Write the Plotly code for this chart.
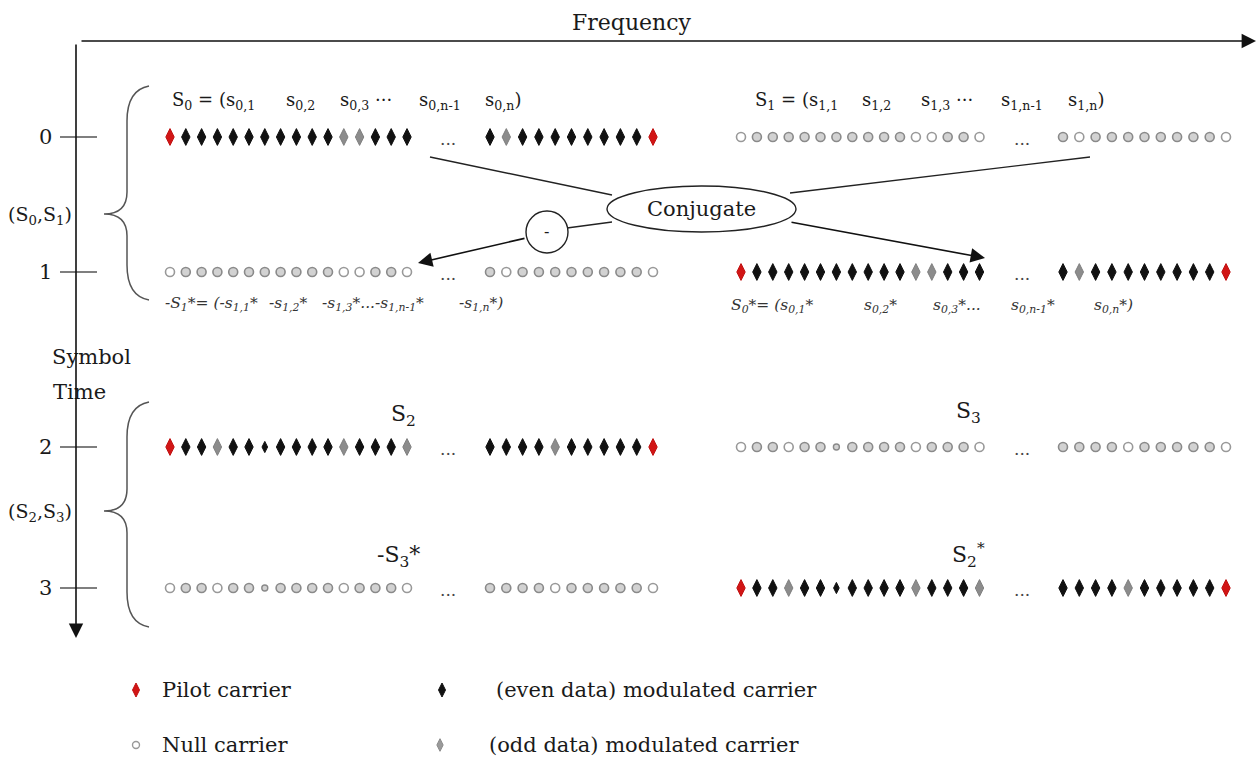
import plotly.graph_objects as go

# ---------------- data ----------------
# carrier codes: P pilot, E even data, e small even data, O odd data,
# N null (light), M null (grey ring), m small null ring
time_labels = ["0", "1", "2", "3"]
pair_labels = ["(S<sub>0</sub>,S<sub>1</sub>)", "(S<sub>2</sub>,S<sub>3</sub>)"]

s0_head = "PEEEEEEEEEEOOEEE"
s0_tail = "EOEEEEEEEEP"
s1_head = "NMMMMMMMMMMNNMMN"
s1_tail = "MNMMMMMMMMN"
s2_head = "PEEOEEeEEEEOEEEO"
s2_tail = "EEEEOEEEEEP"
s3_head = "NMMNMMmMMMMNMMMN"
s3_tail = "MMMMNMMMMMN"

# rows: (left head, left tail, right head, right tail)
rows = [
    (s0_head, s0_tail, s1_head, s1_tail),
    (s1_head, s1_tail, s0_head, s0_tail),
    (s2_head, s2_tail, s3_head, s3_tail),
    (s3_head, s3_tail, s2_head, s2_tail),
]

legend_codes = ["P", "E", "N", "O"]
legend_texts = ["Pilot carrier", "(even data) modulated carrier",
                "Null carrier", "(odd data) modulated carrier"]

# ---------------- layout constants ----------------
row_y = [137, 272, 447, 588]
group_x = [170, 490, 741, 1063]
group_step = [15.8, 16.3, 15.9, 16.3]
dots_x = [448, 1022]
SERIF = "DejaVu Serif"
INK = "#1a1a1a"

styles = {
    "P": dict(symbol="diamond-tall", size=12, color="#d21515", line=dict(color="#c01010", width=1)),
    "E": dict(symbol="diamond-tall", size=12, color="#111111", line=dict(color="#111111", width=1)),
    "e": dict(symbol="diamond-tall", size=8, color="#111111", line=dict(color="#111111", width=1)),
    "O": dict(symbol="diamond-tall", size=12, color="#8c8c8c", line=dict(color="#808080", width=1)),
    "N": dict(symbol="circle", size=9, color="#ffffff", line=dict(color="#999999", width=1.6)),
    "M": dict(symbol="circle", size=9, color="#d2d2d2", line=dict(color="#8a8a8a", width=1.6)),
    "m": dict(symbol="circle", size=6, color="#d2d2d2", line=dict(color="#8a8a8a", width=1.4)),
}
legend_styles = {
    "P": dict(symbol="diamond-tall", size=10, color="#d21515", line=dict(color="#c01010", width=1)),
    "E": dict(symbol="diamond-tall", size=10, color="#111111", line=dict(color="#111111", width=1)),
    "N": dict(symbol="circle", size=7, color="#ffffff", line=dict(color="#999999", width=1.4)),
    "O": dict(symbol="diamond-tall", size=9, color="#9a9a9a", line=dict(color="#8a8a8a", width=1)),
}

pts = {k: ([], []) for k in styles}
for r, (lh, lt, rh, rt) in enumerate(rows):
    for gx, gs, seq in zip(group_x, group_step, (lh, lt, rh, rt)):
        for i, c in enumerate(seq):
            pts[c][0].append(gx + i * gs)
            pts[c][1].append(row_y[r])

fig = go.Figure()
for k, (xs, ys) in pts.items():
    if xs:
        fig.add_trace(go.Scatter(x=xs, y=ys, mode="markers", marker=styles[k],
                                 hoverinfo="skip", showlegend=False))

# legend markers
leg_pos = [(136, 690), (442, 690), (136, 745), (440, 745)]
text_pos = [(160, 690), (494, 690), (160, 745), (487, 745)]
for code, (lx, ly) in zip(legend_codes, leg_pos):
    fig.add_trace(go.Scatter(x=[lx], y=[ly], mode="markers", marker=legend_styles[code],
                             hoverinfo="skip", showlegend=False))

ann = []
def txt(x, y, s, size=19, xanchor="center", italic=False, color=INK):
    ann.append(dict(x=x, y=y, text=s, showarrow=False, xanchor=xanchor, yanchor="middle",
                    font=dict(family=SERIF, size=size, color=color,
                              style="italic" if italic else "normal")))

for t, (tx, ty) in zip(legend_texts, text_pos):
    txt(tx, ty, t, size=21, xanchor="left")

txt(632, 22, "Frequency", size=22)
for lab, y in zip(time_labels, row_y):
    txt(45, y, lab, size=21)
txt(40, 215, pair_labels[0], size=19)
txt(40, 512, pair_labels[1], size=19)
txt(91, 357, "Symbol", size=21)
txt(79, 392, "Time", size=21)

for cx in dots_x:
    for y in row_y:
        txt(cx, y + 2, "...", size=17, color="#444444")

# header pieces (left x positions)
hdr0 = [(170, "S<sub>0</sub> = (s<sub>0,1</sub>"), (284, "s<sub>0,2</sub>"),
        (338, "s<sub>0,3</sub> ···"), (417, "s<sub>0,n-1</sub>"), (483, "s<sub>0,n</sub>)")]
hdr1 = [(753, "S<sub>1</sub> = (s<sub>1,1</sub>"), (860, "s<sub>1,2</sub>"),
        (919, "s<sub>1,3</sub> ···"), (999, "s<sub>1,n-1</sub>"), (1066, "s<sub>1,n</sub>)")]
for x, s in hdr0 + hdr1:
    txt(x, 101, s, size=18, xanchor="left")

sub1 = [(163, "-S<sub>1</sub>*= (-s<sub>1,1</sub>*"), (267, "-s<sub>1,2</sub>*"),
        (320, "-s<sub>1,3</sub>*...-s<sub>1,n-1</sub>*"), (457, "-s<sub>1,n</sub>*)")]
sub0 = [(729, "S<sub>0</sub>*= (s<sub>0,1</sub>*"), (862, "s<sub>0,2</sub>*"),
        (931, "s<sub>0,3</sub>*..."), (1009, "s<sub>0,n-1</sub>*"), (1092, "s<sub>0,n</sub>*)")]
for x, s in sub1:
    txt(x, 304, s, size=15.5, xanchor="left", italic=True, color="#333333")
for x, s in sub0:
    txt(x, 306, s, size=15.5, xanchor="left", italic=True, color="#333333")

txt(403, 415, "S<sub>2</sub>", size=22)
txt(968, 412, "S<sub>3</sub>", size=22)
txt(398, 556, "-S<sub>3</sub>*", size=22)
txt(968, 555, "S<sub>2</sub><sup>*</sup>", size=22)
txt(701, 209, "Conjugate", size=21)
txt(546, 231, "-", size=16)

def arrow(x0, y0, x1, y1, size=1.3):
    ann.append(dict(x=x1, y=y1, ax=x0, ay=y0, xref="x", yref="y", axref="x", ayref="y",
                    text="", showarrow=True, arrowhead=2, arrowsize=size, arrowwidth=1.6,
                    arrowcolor="#111111", standoff=0, startstandoff=0))

arrow(80, 41, 1256, 41, 1.8)
arrow(76, 43, 76, 638, 1.8)
arrow(790, 222, 985, 258, 1.8)
arrow(526, 238, 418, 263, 1.8)

shapes = []
def line(x0, y0, x1, y1, color="#222222", w=1.4):
    shapes.append(dict(type="line", x0=x0, y0=y0, x1=x1, y1=y1, xref="x", yref="y",
                       line=dict(color=color, width=w)))

for y in row_y:
    line(60, y, 97, y, color="#555555", w=1.6)
line(430, 157, 612, 195)
line(1090, 157, 790, 193)
line(612, 222, 567, 228)

shapes.append(dict(type="circle", x0=607, x1=796, y0=186, y1=232, xref="x", yref="y",
                   line=dict(color="#222222", width=1.4)))
shapes.append(dict(type="circle", x0=526, x1=568, y0=211, y1=253, xref="x", yref="y",
                   line=dict(color="#222222", width=1.4)))

def brace(y0, y1, ty, xr=149, xm=127, xt=104):
    p = (f"M {xr},{y0} Q {xm},{y0+4} {xm},{y0+35} L {xm},{ty-22} Q {xm},{ty} {xt},{ty} "
         f"Q {xm},{ty} {xm},{ty+22} L {xm},{y1-35} Q {xm},{y1-4} {xr},{y1}")
    shapes.append(dict(type="path", path=p, xref="x", yref="y",
                       line=dict(color="#555555", width=1.5)))

brace(86, 300, 214)
brace(402, 627, 511)

fig.update_layout(
    width=1260, height=758, autosize=False,
    margin=dict(l=0, r=0, t=0, b=0),
    paper_bgcolor="white", plot_bgcolor="white",
    xaxis=dict(range=[0, 1260], visible=False, fixedrange=True),
    yaxis=dict(range=[758, 0], visible=False, fixedrange=True),
    annotations=ann, shapes=shapes, showlegend=False,
)
fig.write_html("out.html", config={"displayModeBar": False},
               post_script="document.body.style.margin='0';document.body.style.overflow='hidden';")
